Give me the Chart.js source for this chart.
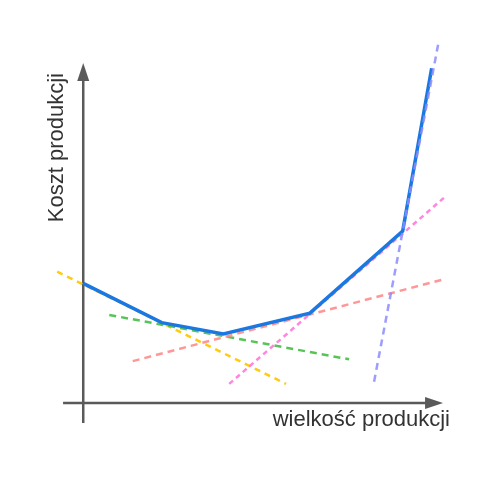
<!DOCTYPE html>
<html>
<head>
<meta charset="utf-8">
<script src="https://cdn.jsdelivr.net/npm/chart.js@4/dist/chart.umd.min.js"></script>
<style>
  html, body { margin: 0; padding: 0; background: #fff; }
  #wrap { width: 500px; height: 480px; }
</style>
</head>
<body>
<div id="wrap"><canvas id="c" width="500" height="480"></canvas></div>
<script>
// Cost curve (production size -> production cost)
const productionSize = [0, 2.14, 3.82, 6.18, 8.71, 9.50];
const productionCost = [3.26, 2.19, 1.88, 2.45, 4.69, 9.13];

// Tangent (dashed) lines: [start, end]
const yellowX = [-0.71, 5.53];
const yellowY = [3.58, 0.52];
const greenX = [0.71, 7.25];
const greenY = [2.40, 1.19];
const salmonX = [1.35, 9.82];
const salmonY = [1.14, 3.37];
const pinkX = [3.98, 9.84];
const pinkY = [0.52, 5.60];
const lavenderX = [7.93, 9.70];
const lavenderY = [0.58, 9.90];

// Axis extents (data units)
const axisXRange = [-0.55, 9.81];
const axisYRange = [-0.55, 9.27];

const xTitle = 'wielkość produkcji';
const yTitle = 'Koszt produkcji';

function pts(xs, ys) { return xs.map((x, i) => ({ x: x, y: ys[i] })); }

function dashed(xs, ys, color, dash) {
  return {
    data: pts(xs, ys),
    borderColor: color,
    borderWidth: 2.5,
    borderDash: dash,
    showLine: true,
    pointRadius: 0,
    fill: false,
    clip: false
  };
}

const axesPlugin = {
  id: 'arrowAxes',
  beforeDatasetsDraw(chart) {
    const ctx = chart.ctx;
    const xs = chart.scales.x, ys = chart.scales.y;
    const x0 = xs.getPixelForValue(0), y0 = ys.getPixelForValue(0);
    const xa = xs.getPixelForValue(axisXRange[0]), xb = xs.getPixelForValue(axisXRange[1]);
    const ya = ys.getPixelForValue(axisYRange[0]), yb = ys.getPixelForValue(axisYRange[1]);
    const L = 18, W = 6;
    ctx.save();
    ctx.strokeStyle = '#5a5a5a';
    ctx.fillStyle = '#5a5a5a';
    ctx.lineWidth = 2.5;
    ctx.beginPath();
    ctx.moveTo(xa, y0); ctx.lineTo(xb - L + 2, y0);
    ctx.moveTo(x0, ya); ctx.lineTo(x0, yb + L - 2);
    ctx.stroke();
    ctx.beginPath();
    ctx.moveTo(xb, y0); ctx.lineTo(xb - L, y0 - W); ctx.lineTo(xb - L, y0 + W); ctx.closePath();
    ctx.fill();
    ctx.beginPath();
    ctx.moveTo(x0, yb); ctx.lineTo(x0 - W, yb + L); ctx.lineTo(x0 + W, yb + L); ctx.closePath();
    ctx.fill();
    ctx.restore();
  }
};

Chart.defaults.font.family = "'Liberation Sans', Arial, sans-serif";

new Chart(document.getElementById('c'), {
  type: 'scatter',
  data: {
    datasets: [
      dashed(lavenderX, lavenderY, 'rgba(140,140,255,0.85)', [7, 5]),
      {
        data: pts(productionSize, productionCost),
        borderColor: '#1a78e0',
        borderWidth: 3.5,
        showLine: true,
        pointRadius: 0,
        fill: false,
        clip: false,
        tension: 0
      },
      dashed(pinkX, pinkY, 'rgba(255,120,220,0.9)', [5, 4]),
      dashed(salmonX, salmonY, 'rgba(255,140,140,0.9)', [7, 5]),
      dashed(greenX, greenY, 'rgba(70,190,70,0.9)', [7, 5]),
      dashed(yellowX, yellowY, 'rgba(255,200,0,0.95)', [6, 5])
    ]
  },
  options: {
    responsive: false,
    animation: false,
    layout: { padding: { left: 44, right: 50, top: 73, bottom: 47 } },
    plugins: { legend: { display: false }, tooltip: { enabled: false } },
    scales: {
      x: {
        type: 'linear', min: -0.35, max: 10,
        grid: { display: false, drawTicks: false },
        border: { display: false },
        ticks: { display: false },
        title: { display: true, text: xTitle, align: 'end', color: '#333', font: { size: 22, lineHeight: 1.2 }, padding: { top: 0, bottom: 0 } }
      },
      y: {
        type: 'linear', min: -0.1, max: 9,
        grid: { display: false, drawTicks: false },
        border: { display: false },
        ticks: { display: false },
        title: { display: true, text: yTitle, align: 'end', color: '#333', font: { size: 22, lineHeight: 1.2 }, padding: { top: 0, bottom: 0 } }
      }
    }
  },
  plugins: [axesPlugin]
});
</script>
</body>
</html>
